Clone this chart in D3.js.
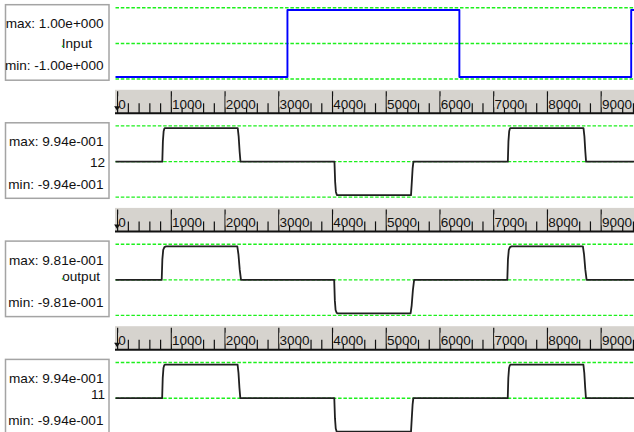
<!DOCTYPE html>
<html><head><meta charset="utf-8">
<script src="https://cdn.jsdelivr.net/npm/d3@7"></script>
<style>
html,body{margin:0;padding:0;background:#fff;}
svg{display:block;font-family:"Liberation Sans",Arial,sans-serif;}
</style></head>
<body><svg id="c" width="634" height="432"></svg>
<script>
// ---------- data ----------
const panelNames = ["Input", "12", "output", "11"];
const panelMax   = [1.00, 0.994, 0.981, 0.994];
const panelMin   = [-1.00, -0.994, -0.981, -0.994];
const majorTicks = [0, 1000, 2000, 3000, 4000, 5000, 6000, 7000, 8000, 9000];
const tickLabels = ["0", "1000", "2000", "3000", "4000", "5000", "6000", "7000", "8000", "9000"];
const minorTicks = [200,400,600,800,1200,1400,1600,1800,2200,2400,2600,2800,3200,3400,3600,3800,
  4200,4400,4600,4800,5200,5400,5600,5800,6200,6400,6600,6800,7200,7400,7600,7800,
  8200,8400,8600,8800,9200,9400,9600];

// series: [time, value]
const inputSeries = [[-30,-1],[3170,-1],[3170,1],[6370,1],[6370,-1],[9568,-1],[9568,1],[9620,1]];
const series12 = [[-30,0],[841,0],[852,0.6],[866,0.9],[880,0.98],[893,0.994],[2245,0.994],[2262,0.75],[2280,0.3],[2296,0],
  [4045,0],[4058,-0.6],[4072,-0.9],[4090,-0.994],[5470,-0.994],[5485,-0.6],[5500,-0.2],[5515,0],
  [7272,0],[7283,0.6],[7297,0.9],[7311,0.98],[7324,0.994],[8680,0.994],[8697,0.75],[8714,0.3],[8728,0],[9620,0]];
const seriesOut = [[-30,0],[830,0],[842,0.6],[858,0.88],[880,0.96],[910,0.981],[2237,0.981],[2258,0.75],[2282,0.3],[2306,0],
  [4040,0],[4052,-0.6],[4066,-0.88],[4085,-0.96],[4105,-0.981],[5462,-0.981],[5482,-0.75],[5505,-0.3],[5528,0],
  [7262,0],[7274,0.6],[7290,0.88],[7312,0.96],[7340,0.981],[8669,0.981],[8690,0.75],[8714,0.3],[8738,0],[9620,0]];
const series11 = [[-30,0],[838,0],[849,0.6],[863,0.9],[877,0.98],[890,0.994],[2242,0.994],[2259,0.75],[2277,0.3],[2293,0],
  [4042,0],[4055,-0.6],[4069,-0.9],[4087,-0.994],[5470,-0.994],[5484,-0.6],[5499,-0.2],[5513,0],
  [7270,0],[7281,0.6],[7295,0.9],[7309,0.98],[7322,0.994],[8678,0.994],[8695,0.75],[8712,0.3],[8726,0],[9620,0]];
const allSeries = [inputSeries, series12, seriesOut, series11];

// ---------- layout ----------
const panelTop = [7.8, 125.9, 244.2, 362.5];
const nameX  = [92, 105, 100, 105];
const nameDy = [38.3, 39, 34.5, 34.3];
const lineColor = ["#0000ff", "#202020", "#202020", "#202020"];
const plotLeft = 115.5, plotRight = 634;
const svg = d3.select("#c");

const x = d3.scaleLinear().domain([-30, 9620]).range([plotLeft, plotRight]);

function fmtExp(v){
  const s = v.toExponential(2);
  const m = s.match(/^(-?[\d.]+)e([+-])(\d+)$/);
  return m[1] + "e" + m[2] + m[3].padStart(3, "0");
}

panelNames.forEach((name, i) => {
  const top = panelTop[i];
  const g = svg.append("g");
  const boxTop = top - 3.1;
  g.append("rect").attr("x", 5.5).attr("y", boxTop).attr("width", 103.5).attr("height", 75.5)
    .attr("fill", "#fff").attr("stroke", "#a4a4a4").attr("stroke-width", 1.5);
  g.append("text").attr("x", 103.5).attr("y", boxTop + 23.5).attr("text-anchor", "end")
    .attr("font-size", 13.6).attr("fill", "#111").text("max: " + fmtExp(panelMax[i]));
  g.append("text").attr("x", nameX[i]).attr("y", boxTop + nameDy[i] + 5).attr("text-anchor", "end")
    .attr("font-size", 13.6).attr("fill", "#111").text(name);
  g.append("text").attr("x", 103.5).attr("y", boxTop + 65.7).attr("text-anchor", "end")
    .attr("font-size", 13.6).attr("fill", "#111").text("min: " + fmtExp(panelMin[i]));
  if (name === "Input" || name === "output") {
    g.append("rect").attr("x", 61.8).attr("y", boxTop + nameDy[i] + 2.5).attr("width", 1.5).attr("height", 1.5).attr("fill", "#22cc22");
  }

  const gy = [top, top + 35.7, top + 71.2];
  g.selectAll("line.grid").data(gy).enter().append("line")
    .attr("x1", plotLeft).attr("x2", plotRight).attr("y1", d => d).attr("y2", d => d)
    .attr("stroke", "#1cf01c").attr("stroke-width", 1.4).attr("stroke-dasharray", "3.5,1.8");

  const y = d3.scaleLinear().domain([panelMin[i], panelMax[i]]).range([top + 69.2, top + 2.2]);
  const line = d3.line().x(d => x(d[0])).y(d => y(d[1]));
  g.append("path").datum(allSeries[i]).attr("d", line)
    .attr("fill", "none").attr("stroke", lineColor[i]).attr("stroke-width", i === 0 ? 1.9 : 1.8)
    .attr("stroke-linejoin", "round");

  if (i < 3) {
    const base = top + 105.5;
    const ax = svg.append("g");
    ax.append("rect").attr("x", 115).attr("y", base - 23.5).attr("width", 519).attr("height", 23.5).attr("fill", "#d6d3ce");
    ax.append("g").attr("transform", `translate(0,${base})`)
      .call(d3.axisTop(x).tickValues(minorTicks).tickSize(10).tickFormat(""))
      .call(s => s.select(".domain").remove())
      .call(s => s.selectAll("line").attr("stroke", "#111").attr("stroke-width", 1.2));
    ax.append("g").attr("transform", `translate(0,${base})`)
      .call(d3.axisTop(x).tickValues(majorTicks).tickSize(22).tickFormat(""))
      .call(s => s.select(".domain").remove())
      .call(s => s.selectAll("line").attr("stroke", "#111").attr("stroke-width", 1.2));
    majorTicks.forEach((t, k) => {
      const lg = ax.append("g");
      const bg = lg.append("rect").attr("fill", "#d6d3ce");
      const tx = lg.append("text").attr("x", x(t) + 1.2).attr("y", base - 4.8)
        .attr("font-size", 13.5).attr("fill", "#111").text(tickLabels[k]);
      const w = tx.node().getComputedTextLength();
      bg.attr("x", x(t) + 1).attr("y", base - 17).attr("width", w + 0.5).attr("height", 11);
    });
    const z = x(0);
    ax.append("path").attr("d", `M${z - 3},${base - 7} L${z + 3},${base - 7} L${z},${base - 2.5} Z`).attr("fill", "#111");
    ax.append("line").attr("x1", 115).attr("x2", 634).attr("y1", base).attr("y2", base)
      .attr("stroke", "#111").attr("stroke-width", 2);
  }
});
</script></body></html>
